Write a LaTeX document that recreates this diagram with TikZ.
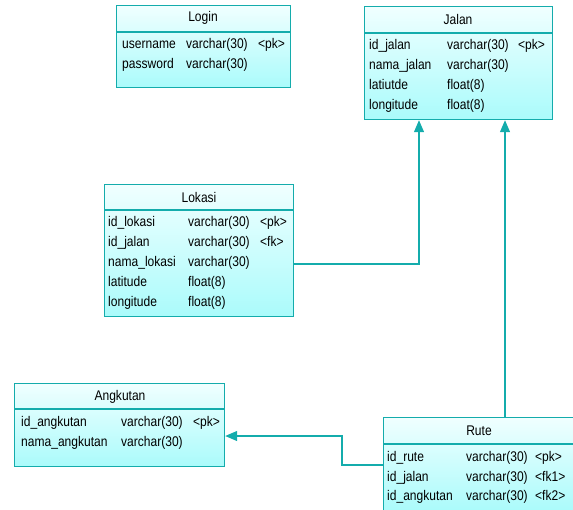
\documentclass[tikz,border=0pt]{standalone}
\usepackage{fontspec}
\setmainfont{Liberation Sans}[FakeStretch=0.86]
\usetikzlibrary{arrows.meta}
\definecolor{tealc}{RGB}{20,172,172}
\definecolor{topc}{RGB}{240,255,255}
\definecolor{botc}{RGB}{170,251,251}
\tikzset{
  tbl/.style={draw=tealc, line width=1.2pt, top color=topc, bottom color=botc, rectangle, inner sep=0pt, anchor=north west},
  sepl/.style={draw=tealc, line width=1.2pt},
  ttl/.style={anchor=center, inner sep=0pt, font=\fontsize{14}{16}\selectfont},
  fld/.style={anchor=west, inner sep=0pt, text height=10.5pt, text depth=3pt, font=\fontsize{14}{16}\selectfont},
  conn/.style={draw=tealc, line width=1.2pt},
  arr/.style={-{Triangle[length=12pt,width=10pt]}}
}
\begin{document}
\begin{tikzpicture}[x=1pt,y=-1pt]
\useasboundingbox (0,0) rectangle (573,509);
\clip (0,0) rectangle (573,509);
% Login
\node[tbl, minimum width=174pt, minimum height=82pt] (login) at (116,5) {};
\draw[sepl] (login.north west) ++(0,27) -- ++(174,0);
\node[ttl] (loginT) at (203,18) {Login};
\node[fld] (l1a) at (122,45) {username};
\node[fld] (l1b) at (186,45) {varchar(30)};
\node[fld] (l1c) at (258,45) {<pk>};
\node[fld] (l2a) at (122,65) {password};
\node[fld] (l2b) at (186,65) {varchar(30)};
% Jalan
\node[tbl, minimum width=188pt, minimum height=113pt] (jalan) at (364,6) {};
\draw[sepl] (jalan.north west) ++(0,27) -- ++(188,0);
\node[ttl] (jalanT) at (458,19) {Jalan};
\node[fld] (j1a) at (369,46) {id\_jalan};
\node[fld] (j1b) at (447,46) {varchar(30)};
\node[fld] (j1c) at (518,46) {<pk>};
\node[fld] (j2a) at (369,66) {nama\_jalan};
\node[fld] (j2b) at (447,66) {varchar(30)};
\node[fld] (j3a) at (369,86) {latiutde};
\node[fld] (j3b) at (447,86) {float(8)};
\node[fld] (j4a) at (369,106) {longitude};
\node[fld] (j4b) at (447,106) {float(8)};
% Lokasi
\node[tbl, minimum width=189pt, minimum height=132pt] (lokasi) at (104,184) {};
\draw[sepl] (lokasi.north west) ++(0,26) -- ++(189,0);
\node[ttl] (lokasiT) at (199,197) {Lokasi};
\node[fld] (k1a) at (108,223) {id\_lokasi};
\node[fld] (k1b) at (188,223) {varchar(30)};
\node[fld] (k1c) at (260,223) {<pk>};
\node[fld] (k2a) at (108,243) {id\_jalan};
\node[fld] (k2b) at (188,243) {varchar(30)};
\node[fld] (k2c) at (260,243) {<fk>};
\node[fld] (k3a) at (108,263) {nama\_lokasi};
\node[fld] (k3b) at (188,263) {varchar(30)};
\node[fld] (k4a) at (108,283) {latitude};
\node[fld] (k4b) at (188,283) {float(8)};
\node[fld] (k5a) at (108,303) {longitude};
\node[fld] (k5b) at (188,303) {float(8)};
% Angkutan
\node[tbl, minimum width=210pt, minimum height=83pt] (angkutan) at (14,383) {};
\draw[sepl] (angkutan.north west) ++(0,26) -- ++(210,0);
\node[ttl] (angkutanT) at (120,397) {Angkutan};
\node[fld] (a1a) at (21,423) {id\_angkutan};
\node[fld] (a1b) at (121,423) {varchar(30)};
\node[fld] (a1c) at (193,423) {<pk>};
\node[fld] (a2a) at (21,443) {nama\_angkutan};
\node[fld] (a2b) at (121,443) {varchar(30)};
% Rute
\node[tbl, minimum width=192pt, minimum height=94pt] (rute) at (383,417) {};
\draw[sepl] (rute.north west) ++(0,27) -- ++(192,0);
\node[ttl] (ruteT) at (479,431) {Rute};
\node[fld] (r1a) at (387,458) {id\_rute};
\node[fld] (r1b) at (466,458) {varchar(30)};
\node[fld] (r1c) at (535,458) {<pk>};
\node[fld] (r2a) at (387,478) {id\_jalan};
\node[fld] (r2b) at (466,478) {varchar(30)};
\node[fld] (r2c) at (535,478) {<fk1>};
\node[fld] (r3a) at (387,497) {id\_angkutan};
\node[fld] (r3b) at (466,497) {varchar(30)};
\node[fld] (r3c) at (535,497) {<fk2>};
% connectors
\draw[conn,arr] (lokasi.east |- 0,264) -| (jalan.south -| 419,0);
\draw[conn,arr] (rute.north -| 505,0) -- (jalan.south -| 505,0);
\draw[conn,arr] (rute.west |- 0,465) -| (342,436) -- (angkutan.east |- 0,436);
\end{tikzpicture}
\end{document}
